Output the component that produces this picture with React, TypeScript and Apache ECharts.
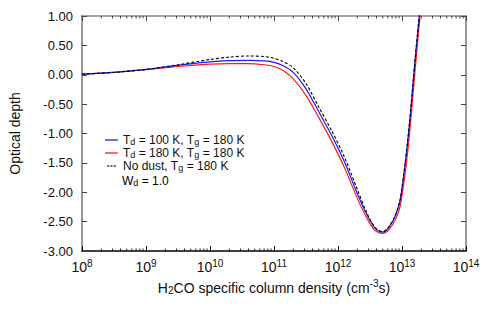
import React, { useEffect, useRef } from "react";
import * as echarts from "echarts";

// column density (cm^-3 s)
const xValues = [
  1e8, 3.16e8, 1e9, 3.16e9, 1e10, 2e10, 3.98e10, 7.08e10, 1e11, 1.41e11, 2e11,
  3.16e11, 5.01e11, 7.94e11, 1.26e12, 2e12, 2.82e12, 3.8e12, 5.01e12, 6.31e12,
  7.94e12, 9.33e12, 1.12e13, 1.32e13, 1.58e13, 1.86e13, 2.24e13,
];
const noDust = [
  0.01, 0.04, 0.09, 0.17, 0.26, 0.3, 0.32, 0.31, 0.28, 0.22, 0.12, -0.15, -0.55,
  -0.95, -1.4, -1.95, -2.35, -2.6, -2.67, -2.58, -2.38, -2.13, -1.5, -0.78, 0.2,
  1.0, 1.9,
];
const td100 = [
  0.01, 0.04, 0.09, 0.16, 0.22, 0.24, 0.245, 0.235, 0.21, 0.15, 0.04, -0.24,
  -0.63, -1.03, -1.48, -2.02, -2.38, -2.61, -2.68, -2.59, -2.39, -2.14, -1.52,
  -0.8, 0.18, 0.98, 1.88,
];
const td180 = [
  0.01, 0.04, 0.085, 0.14, 0.18, 0.19, 0.19, 0.17, 0.14, 0.07, -0.07, -0.35,
  -0.73, -1.13, -1.58, -2.1, -2.44, -2.65, -2.7, -2.63, -2.46, -2.24, -1.68,
  -0.98, 0.0, 0.85, 1.75,
];
const decades = [8, 9, 10, 11, 12, 13];
const minorMultipliers = [2, 3, 4, 5, 6, 7, 8, 9];

const FONT = "Liberation Sans";

export default function App() {
  const ref = useRef<HTMLDivElement>(null);
  useEffect(() => {
    if (!ref.current) return;
    const chart = echarts.init(ref.current, null, { renderer: "svg" });
    const pair = (ys: number[]) => xValues.map((x, i) => [x, ys[i]]);
    const minorData: number[][] = [];
    decades.forEach((d) =>
      minorMultipliers.forEach((m) => minorData.push([m * Math.pow(10, d), 0]))
    );
    const supRich = {
      b: { fontSize: 14, fontFamily: FONT, color: "#111" },
      s: { fontSize: 10, fontFamily: FONT, color: "#111", padding: [0, 0, 8, 0] },
    };
    const legRich = {
      t: { fontSize: 12, fontFamily: FONT, color: "#111" },
      sub: { fontSize: 9, fontFamily: FONT, color: "#111", padding: [4, 0, 0, 0] },
    };
    const legendFmt = (name: string) => {
      if (name === "a") return "{t|T}{sub|d}{t| = 100 K, T}{sub|g}{t| = 180 K}";
      if (name === "b") return "{t|T}{sub|d}{t| = 180 K, T}{sub|g}{t| = 180 K}";
      return "{t|No dust, T}{sub|g}{t| = 180 K}";
    };
    const commonX = {
      type: "log" as const,
      logBase: 10,
      min: 1e8,
      max: 1e14,
      splitLine: { show: false },
      minorTick: { show: false },
    };
    chart.setOption({
      animation: false,
      grid: { left: 75, right: 25, top: 16, bottom: 58 },
      xAxis: [
        {
          ...commonX,
          position: "bottom",
          axisLine: { onZero: false, lineStyle: { color: "#000", width: 1.5 } },
          axisTick: { inside: true, length: 5, lineStyle: { color: "#000" } },
          axisLabel: {
            margin: 7,
            formatter: (v: number) => `{b|10}{s|${Math.round(Math.log10(v))}}`,
            rich: supRich,
          },
          name: "{b|H}{sub|2}{b|CO specific column density (cm}{s|-3}{b|s)}",
          nameLocation: "middle",
          nameGap: 27,
          nameTextStyle: {
            rich: {
              b: { fontSize: 14, fontFamily: FONT, color: "#111" },
              s: { fontSize: 10, fontFamily: FONT, color: "#111", padding: [0, 0, 8, 0] },
              sub: { fontSize: 10, fontFamily: FONT, color: "#111", padding: [6, 0, 0, 0] },
            },
          },
        },
        {
          ...commonX,
          position: "top",
          axisLine: { onZero: false, lineStyle: { color: "#888", width: 1.5 } },
          axisTick: { inside: true, length: 5, lineStyle: { color: "#444" } },
          axisLabel: { show: false },
        },
      ],
      yAxis: [
        {
          type: "value",
          min: -3,
          max: 1,
          interval: 0.5,
          position: "left",
          splitLine: { show: false },
          axisLine: { show: true, onZero: false, lineStyle: { color: "#999", width: 2 } },
          axisTick: { show: true, inside: true, length: 5, lineStyle: { color: "#444" } },
          axisLabel: {
            margin: 9,
            fontSize: 13,
            fontFamily: FONT,
            color: "#111",
            formatter: (v: number) => v.toFixed(2),
          },
          name: "Optical depth",
          nameLocation: "middle",
          nameGap: 60,
          nameTextStyle: { fontSize: 14, fontFamily: FONT, color: "#111" },
        },
        {
          type: "value",
          min: -3,
          max: 1,
          interval: 0.5,
          position: "right",
          splitLine: { show: false },
          axisLine: { show: true, onZero: false, lineStyle: { color: "#999", width: 2 } },
          axisTick: { show: true, inside: true, length: 5, lineStyle: { color: "#444" } },
          axisLabel: { show: false },
        },
      ],
      legend: {
        data: [
          { name: "a", icon: "rect" },
          { name: "b", icon: "rect" },
          { name: "c", icon: "path://M0,0h3v2h-3zM5,0h3v2h-3zM10,0h3v2h-3z" },
        ],
        orient: "vertical",
        left: 100,
        top: 129,
        itemWidth: 13,
        itemHeight: 1.3,
        itemGap: 0.5,
        formatter: legendFmt,
        textStyle: { rich: legRich },
        selectedMode: false,
      },
      graphic: [
        {
          type: "text",
          left: 122,
          top: 175,
          style: {
            text: "{t|W}{sub|d}{t| = 1.0}",
            rich: legRich,
          },
        },
      ],
      series: [
        {
          name: "b",
          type: "line",
          data: pair(td180),
          smooth: 0.3,
          symbol: "none",
          lineStyle: { color: "#ff1a1a", width: 1.2 },
          itemStyle: { color: "#ff1a1a" },
        },
        {
          name: "a",
          type: "line",
          data: pair(td100),
          smooth: 0.3,
          symbol: "none",
          lineStyle: { color: "#1a1aff", width: 1.2 },
          itemStyle: { color: "#1a1aff" },
        },
        {
          name: "c",
          type: "line",
          data: pair(noDust),
          smooth: 0.3,
          symbol: "none",
          lineStyle: { color: "#000", width: 1.1, type: [3, 2] },
          itemStyle: { color: "#333" },
        },
        {
          type: "custom",
          data: minorData,
          silent: true,
          renderItem: (params: any, api: any) => {
            const x = api.coord([api.value(0), 0])[0];
            const cs = params.coordSys;
            const yb = cs.y + cs.height;
            return {
              type: "group",
              children: [
                { type: "line", shape: { x1: x, y1: yb, x2: x, y2: yb - 2.5 }, style: { stroke: "#222", lineWidth: 1 } },
                { type: "line", shape: { x1: x, y1: cs.y, x2: x, y2: cs.y + 2.5 }, style: { stroke: "#444", lineWidth: 1 } },
              ],
            };
          },
        },
      ],
    });
    return () => chart.dispose();
  }, []);
  return <div ref={ref} style={{ width: 491, height: 309, position: "absolute", left: 0, top: 0 }} />;
}
